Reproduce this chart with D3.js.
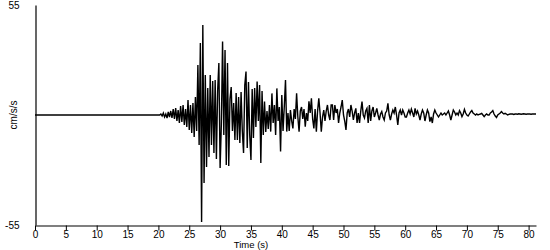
<!DOCTYPE html>
<html>
<head>
<meta charset="utf-8">
<script src="https://cdn.jsdelivr.net/npm/d3@7"></script>
<style>
  body { margin: 0; background: #fff; }
  svg text { font-family: "Liberation Sans", Arial, sans-serif; font-size: 10px; fill: #000; }
</style>
</head>
<body>
<div id="chart"></div>
<script>
// ***** Data *****
// record is flat (zero) until the first motion arrives
var quietStart = 0;
var motionStart = 20;   // s
var dt = 0.2;           // s between samples
var yLimits = [-55, 55];
var xTicks = [0, 5, 10, 15, 20, 25, 30, 35, 40, 45, 50, 55, 60, 65, 70, 75, 80];

// acceleration (cm/s/s), sampled every dt from motionStart
var accel = [
  0, 0, 0.5, -0.5, 1, -1, 0.5, -1.5, 1.5, -1,                 // 20.0
  2, -1.5, 3, -2, 3.5, -3, 2.5, -4, 4.5, -3.5,                 // 22.0
  5, -5, 3, -6, 7.5, -7.5, 5, -9, 6, -11,                      // 24.0
  9, -8, 25, -15, 36, -53.5, 45, -34, 20, -26,                 // 26.0
  13.5, -21, 20, -15, 17, -19, 17.5, -22, 12, 26,              // 28.0
  -26.5, -5, 36.7, -10, 32.5, -25, 26, -25.5, 8, 14,           // 30.0
  -8, 6, -12.5, 11, -12.5, 9, -14, 11.5, -8, -19,              // 32.0
  15, 21.7, -16.5, 16.5, -10, -22.5, 13, -11.5, 13.5, -6,      // 34.0
  16.7, -3, 15, -24, 12, -10, 6.7, -8.5, 2, -7,                // 36.0
  5, -8.3, 10.8, -4, 5, -10, 13.3, -3, 4, -18.3,               // 38.0
  10, -8, 4, 17.5, -8.3, 1, -8, 2.5, -3, -6.7,                 // 40.0
  3, -2, 10.8, -1, -8.3, 2, 4, -2, 3, -5.8,                    // 42.0
  1, -3, 6.8, 1, 8.3, -2, -6.7, 3, -8.3, 2,                    // 44.0
  8.3, 1, -8.3, -1, 2.5, -3, 2, 5, 0, -2.5,                    // 46.0
  5, 5, -2.5, 5, 1, 3, -4, 1, 4, 7.5,                          // 48.0
  0, -3, -7.5, 1, 3, -1, 5, 2, -2.5, 1,                        // 50.0
  3.3, -4, 1, -4, 2, 6.7, 0, -1.5, 2, 3.3,                     // 52.0
  -4, 5, -3, 2, 4, -1, 1, 3.3, 0, -2.5,                        // 54.0
  0.5, 1.7, -1, -2.5, 1, 2, 5.8, 0, -2.5, 0.5,                 // 56.0
  2.5, 1, 4, 0, -5, 1, 2.5, 0, 2.5, 1,                         // 58.0
  -1, -1, 1, 2.5, 0.5, 3, 1, -1, 3.3, 0.5,                     // 60.0
  2, 0, -2.5, 0.5, 2.5, 1, -3, 0, 2.5, 1,                      // 62.0
  -3.3, -1, -4, 0.5, 2.5, 1, 0, -1, 0, 1,                      // 64.0
  0, 0.5, 1, 0, 1, 2, 0, -2.5, 0, 2.5,                         // 66.0
  1.5, 0, 1, 0, 2.2, 1, -0.8, 0.5, 2.8, 1,                     // 68.0
  0, -0.5, 0.5, 1.5, 2.2, 1, 0.5, 0, 0.5, 0,                   // 70.0
  0.3, 0.5, 0.8, 0, -0.8, 0, 0.5, 0, 0, 1,                     // 72.0
  1.5, 2.2, 0.5, -0.5, -1.2, 0, 0.5, 1, 1.7, 1,                // 74.0
  0.5, 0.8, 0.5, 0, 0.3, 0.5, 0.5, 0.5, 0.3, 0.5,              // 76.0
  0.5, 0.4, 0.6, 0.5, 0.4, 0.5, 0.6, 0.5, 0.4, 0.5,            // 78.0
  0.5, 0.5, 0.4, 0.5, 0.5, 0.5, 0.5                            // 80.0
];

// ***** Chart setup *****
var svgWidth = 550;
var svgHeight = 250;

var svg = d3.select("#chart").append("svg")
    .attr("width", svgWidth)
    .attr("height", svgHeight);

// build the series: flat lead-in then the samples
var series = [{ t: quietStart, a: 0 }];
accel.forEach(function(v, i) {
    series.push({ t: motionStart + i * dt, a: v });
});

var xScale = d3.scaleLinear()
    .domain([0, d3.max(series, d => d.t)])
    .range([35, 536]);

var yScale = d3.scaleLinear()
    .domain(yLimits)
    .range([225, 5]);

// x axis
var bottomAxis = d3.axisBottom(xScale)
    .tickValues(xTicks)
    .tickSize(5)
    .tickSizeOuter(0)
    .tickPadding(1);

var xAxis = svg.append("g")
    .attr("transform", `translate(0, ${yScale(-55) + 0.5})`)
    .call(bottomAxis);

// y axis: only the two limits are labelled (plain hyphen minus)
var leftAxis = d3.axisLeft(yScale)
    .tickValues(yLimits)
    .tickFormat(d => String(d))
    .tickSize(0)
    .tickSizeOuter(0)
    .tickPadding(16);

var yAxis = svg.append("g")
    .attr("transform", `translate(${xScale(0) + 0.5}, 0)`)
    .call(leftAxis);

svg.selectAll(".domain").attr("stroke", "#000").attr("stroke-width", 1.2);
svg.selectAll(".tick line").attr("stroke", "#000");
svg.selectAll(".tick text")
    .attr("font-family", "Liberation Sans, Arial, sans-serif")
    .attr("font-size", 10)
    .attr("fill", "#000");
// x tick labels a touch smaller so the axis title fits underneath
xAxis.selectAll(".tick text")
    .attr("font-size", 9)
    .attr("dy", "0.6em");

// trace
var line = d3.line()
    .x(d => xScale(d.t))
    .y(d => yScale(d.a));

svg.append("path")
    .datum(series)
    .attr("fill", "none")
    .attr("stroke", "#000")
    .attr("stroke-width", 1.4)
    .attr("stroke-linejoin", "miter")
    .attr("d", line);

// axis labels
svg.append("text")
    .attr("x", 251)
    .attr("y", 248)
    .attr("text-anchor", "middle")
    .attr("font-size", 9.5)
    .style("font-size", "9.5px")
    .text("Time (s)");

svg.append("text")
    .attr("transform", `translate(17, ${yScale(0)}) rotate(-90)`)
    .attr("text-anchor", "middle")
    .text("cm/s/s");
</script>
</body>
</html>
